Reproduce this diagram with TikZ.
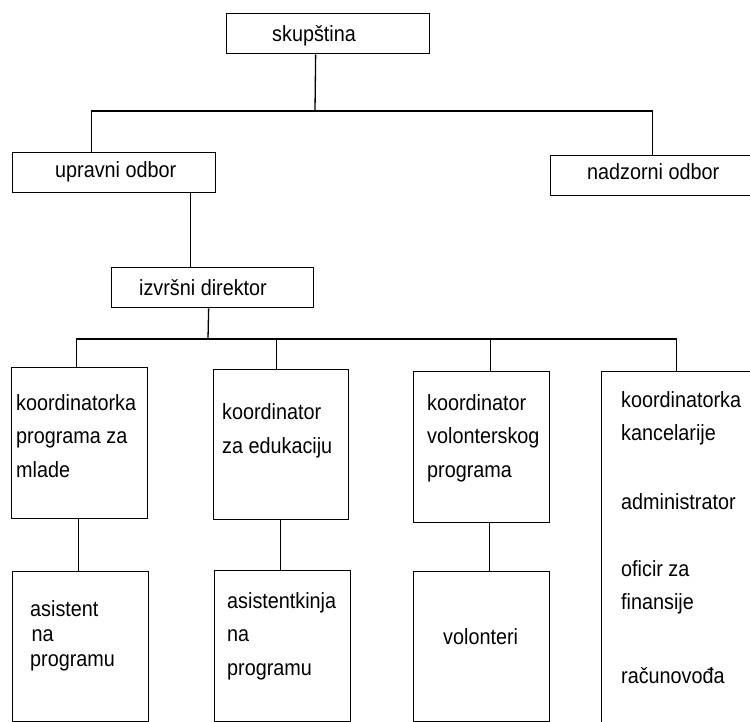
\documentclass[tikz,border=0pt]{standalone}
\usepackage{fontspec}
\setmainfont{Liberation Sans}[FakeStretch=0.9]
\tikzset{
  orgbox/.style={
    draw, line width=1.3pt, inner sep=0pt, anchor=north west
  },
  link/.style={
    line width=1.3pt
  },
  boxtext/.style={
    anchor=base west, inner sep=0pt, align=left,
    font=\fontsize{22}{33.5}\selectfont
  }
}
\begin{document}
\begin{tikzpicture}[x=1pt, y=-1pt]
  \clip (0,0) rectangle (750,722);

  % Boards
  \node[orgbox, minimum width=203pt, minimum height=40pt] (skup) at (226,13) {};
  \node[orgbox, minimum width=203pt, minimum height=40pt] (upr) at (12,152) {};
  \node[orgbox, minimum width=210pt, minimum height=40pt] (nadz) at (550,155) {};
  \node[orgbox, minimum width=202pt, minimum height=40pt] (izv) at (111,267) {};

  % Coordinators
  \node[orgbox, minimum width=136pt, minimum height=151pt] (kmlad) at (11,367) {};
  \node[orgbox, minimum width=135pt, minimum height=150pt] (kedu) at (213,369) {};
  \node[orgbox, minimum width=136pt, minimum height=151pt] (kvol) at (413,371) {};
  \node[orgbox, minimum width=150pt, minimum height=370pt] (kkanc) at (601,371) {};

  % Assistants
  \node[orgbox, minimum width=136pt, minimum height=150pt] (asist) at (12,571) {};
  \node[orgbox, minimum width=136pt, minimum height=151pt] (asistk) at (214,570) {};
  \node[orgbox, minimum width=136pt, minimum height=150pt] (volon) at (413,571) {};

  % Texts (base = last line)
  \node[boxtext] (skup-t) at (272,42) {skupština};
  \node[boxtext] (upr-t) at (55,178) {upravni odbor};
  \node[boxtext] (nadz-t) at (587,180) {nadzorni odbor};
  \node[boxtext] (izv-t) at (139,295) {izvršni direktor};
  \node[boxtext] (kmlad-t) at (16,477) {koordinatorka\\programa za\\mlade};
  \node[boxtext] (kedu-t) at (222,453) {koordinator\\za edukaciju};
  \node[boxtext] (kvol-t) at (427,477) {koordinator\\volonterskog\\programa};
  \node[boxtext, font=\fontsize{22}{33}\selectfont] (kkanc-t) at (621,683)
    {koordinatorka\\kancelarije\\[36pt]administrator\\[34pt]oficir za\\finansije\\[41pt]računovođa};
  \node[boxtext, font=\fontsize{22}{25}\selectfont] (asist-t) at (30,666)
    {asistent\\\hspace*{1.5pt}na\\programu};
  \node[boxtext] (asistk-t) at (227,675) {asistentkinja\\na\\programu};
  \node[boxtext] (volon-t) at (443,644) {volonteri};

  % Connections
  \coordinate (bus1) at (315,111);
  \coordinate (bus2) at (208,339);
  \draw[link] ([xshift=-12.5pt]skup.south) -- (bus1);
  \draw[link] ([xshift=-22.5pt]upr.north) |- (bus1) -| ([xshift=-3pt]nadz.north);
  \draw[link] ([xshift=76.5pt]upr.south) -- ([xshift=-22pt]izv.north);
  \draw[link] ([xshift=-4pt]izv.south) -- (bus2);
  \draw[link] ([xshift=-3pt]kmlad.north) |- (bus2) -| (kkanc.north);
  \draw[link] ([xshift=-4.5pt]kedu.north) |- (bus2);
  \draw[link] ([xshift=9pt]kvol.north) |- (bus2);
  \draw[link] ([xshift=-1pt]kmlad.south) -- ([xshift=-2pt]asist.north);
  \draw[link] ([xshift=-0.5pt]kedu.south) -- ([xshift=-2pt]asistk.north);
  \draw[link] ([xshift=8pt]kvol.south) -- ([xshift=8pt]volon.north);
\end{tikzpicture}
\end{document}
